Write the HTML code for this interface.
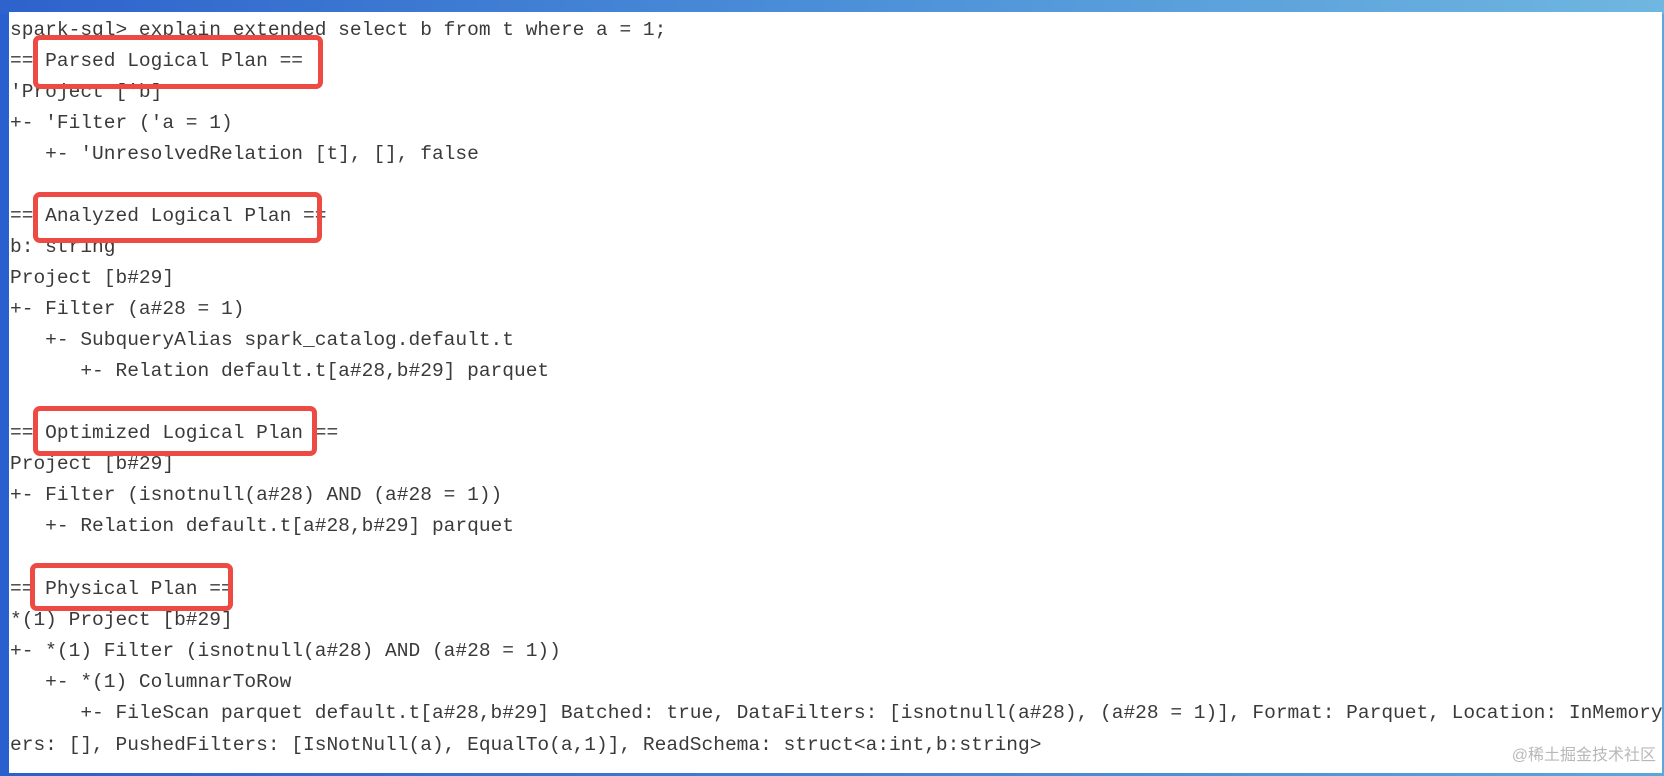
<!DOCTYPE html>
<html><head><meta charset="utf-8"><style>
html,body{margin:0;padding:0;width:1664px;height:776px;overflow:hidden;}
body{background:linear-gradient(90deg,#2a5fcf 0%,#3a78d6 40%,#5aa7dc 100%);position:relative;}
.top{position:absolute;left:0;top:0;width:1664px;height:14px;background:linear-gradient(90deg,#2e62cc,#4b8fd8 50%,#6fb7e0);}
.panel{position:absolute;left:9px;top:12px;width:1653px;height:761px;background:#fff;overflow:hidden;}
.l{position:absolute;left:1px;white-space:pre;font-family:"Liberation Mono",monospace;font-size:19.55px;line-height:24px;color:#3a3a3a;}
.box{position:absolute;border:5px solid #ec4a42;border-radius:7px;box-sizing:border-box;}
.wm{position:absolute;right:6px;bottom:8px;font-family:"Liberation Sans","Noto Sans CJK SC",sans-serif;font-size:16px;color:#b8b8b8;}
</style></head><body>
<div class="top"></div>
<div class="panel">
<div class="l" style="top:6px">spark-sql&gt; explain extended select b from t where a = 1;</div>
<div class="l" style="top:37px">== Parsed Logical Plan ==</div>
<div class="l" style="top:68px">'Project ['b]</div>
<div class="l" style="top:99px">+- 'Filter ('a = 1)</div>
<div class="l" style="top:130px">   +- 'UnresolvedRelation [t], [], false</div>
<div class="l" style="top:192px">== Analyzed Logical Plan ==</div>
<div class="l" style="top:223px">b: string</div>
<div class="l" style="top:254px">Project [b#29]</div>
<div class="l" style="top:285px">+- Filter (a#28 = 1)</div>
<div class="l" style="top:316px">   +- SubqueryAlias spark_catalog.default.t</div>
<div class="l" style="top:347px">      +- Relation default.t[a#28,b#29] parquet</div>
<div class="l" style="top:409px">== Optimized Logical Plan ==</div>
<div class="l" style="top:440px">Project [b#29]</div>
<div class="l" style="top:471px">+- Filter (isnotnull(a#28) AND (a#28 = 1))</div>
<div class="l" style="top:502px">   +- Relation default.t[a#28,b#29] parquet</div>
<div class="l" style="top:565px">== Physical Plan ==</div>
<div class="l" style="top:596px">*(1) Project [b#29]</div>
<div class="l" style="top:627px">+- *(1) Filter (isnotnull(a#28) AND (a#28 = 1))</div>
<div class="l" style="top:658px">   +- *(1) ColumnarToRow</div>
<div class="l" style="top:689px">      +- FileScan parquet default.t[a#28,b#29] Batched: true, DataFilters: [isnotnull(a#28), (a#28 = 1)], Format: Parquet, Location: InMemoryFileIndex</div>
<div class="l" style="top:721px">ers: [], PushedFilters: [IsNotNull(a), EqualTo(a,1)], ReadSchema: struct&lt;a:int,b:string&gt;</div>
<div class="box" style="left:24px;top:23px;width:290px;height:54px"></div>
<div class="box" style="left:24px;top:180px;width:289px;height:51px"></div>
<div class="box" style="left:24px;top:394px;width:284px;height:50px"></div>
<div class="box" style="left:21px;top:551px;width:203px;height:48px"></div>
<div class="wm">@稀土掘金技术社区</div>
</div>
</body></html>
